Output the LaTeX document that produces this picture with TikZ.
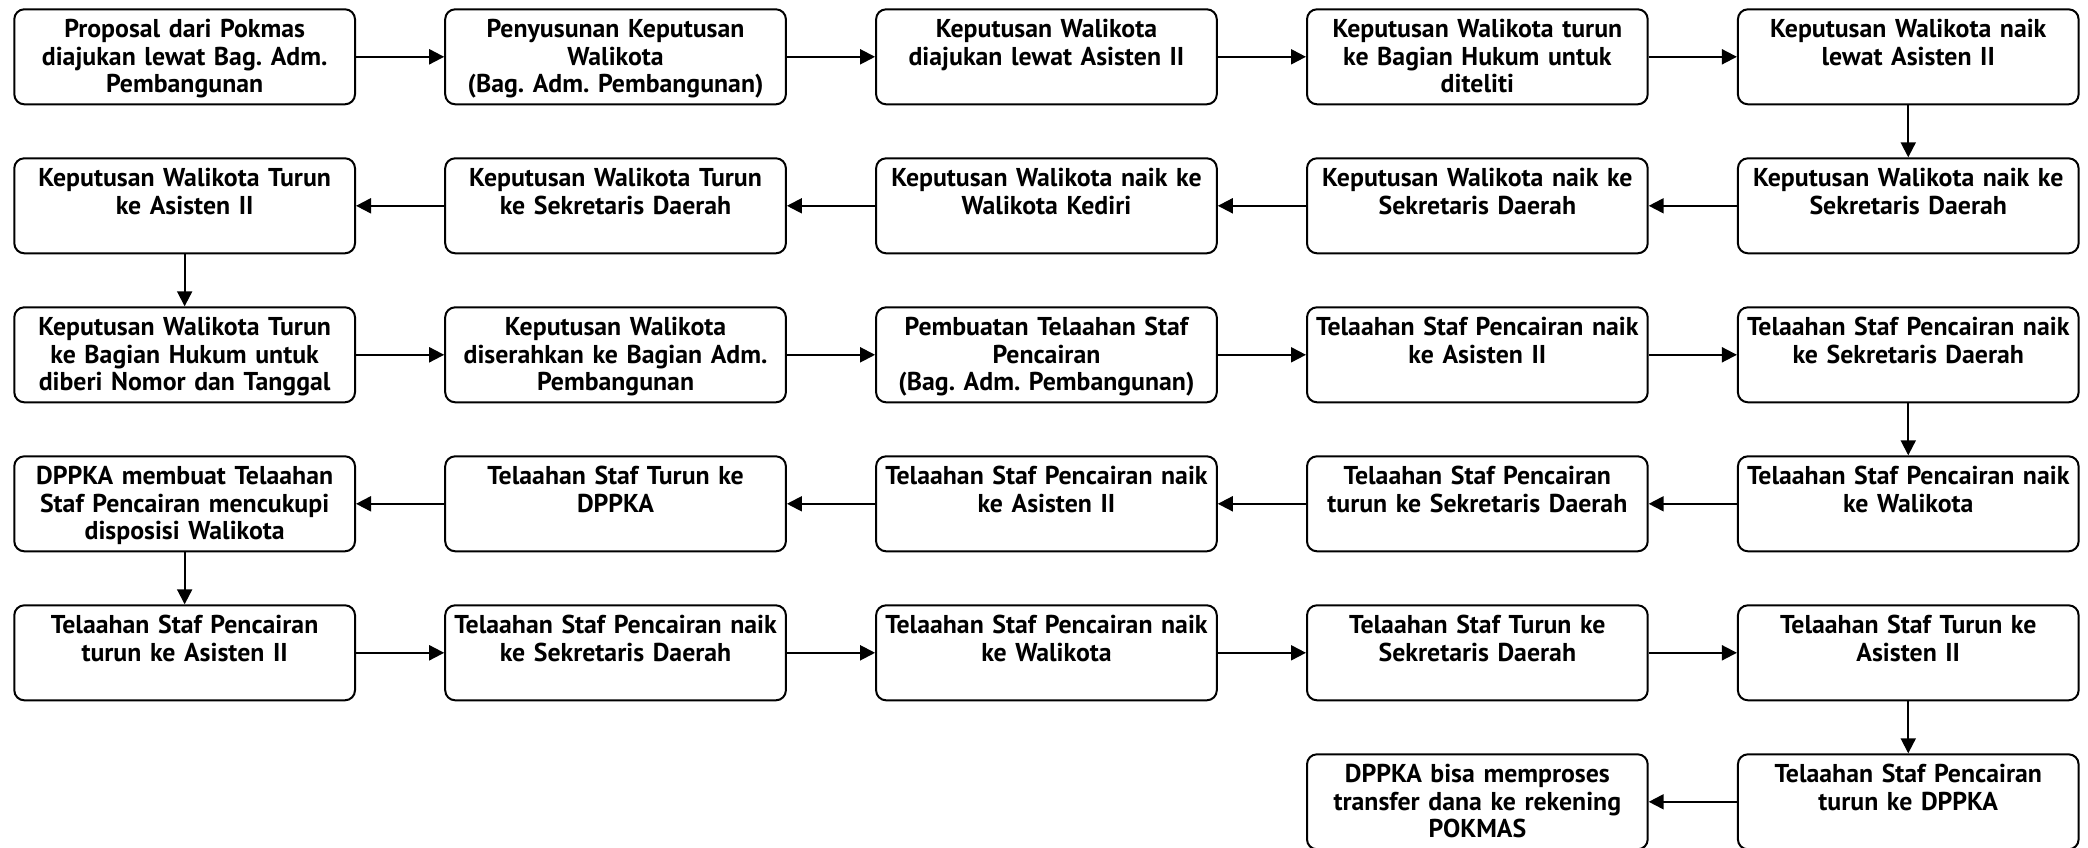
\documentclass[tikz,border=0pt]{standalone}
\usepackage{fontspec}
\setmainfont{PT Sans}
\usepackage{tikz}
\usetikzlibrary{positioning,arrows.meta}
\frenchspacing

\begin{document}
\begin{tikzpicture}[
node distance=26pt and 44.1pt,
box/.style={
rectangle,rounded corners=5pt,draw,line width=1pt,
minimum width=170.35pt,text width=168pt,inner xsep=1pt,inner ysep=4.2pt,
text height=10pt,text depth=29.1pt,align=center,
font=\bfseries\fontsize{12.9}{13.7}\selectfont
},
arrow/.style={-{Triangle[length=7.5pt,width=7.5pt]},line width=1pt}
]
\useasboundingbox (0,0) rectangle (1044pt,-423.5pt);

% row 1
\node[box,anchor=north west] (s1) at (6.65pt,-4.15pt) {Proposal dari Pokmas\\diajukan lewat Bag. Adm.\\Pembangunan};
\node[box,right=of s1] (s2) {Penyusunan Keputusan\\Walikota\\(Bag. Adm. Pembangunan)};
\node[box,right=of s2] (s3) {Keputusan Walikota\\diajukan lewat Asisten II};
\node[box,right=of s3] (s4) {Keputusan Walikota turun\\ke Bagian Hukum untuk\\diteliti};
\node[box,right=of s4] (s5) {Keputusan Walikota naik\\lewat Asisten II};

% row 2
\node[box,below=of s5] (s6) {Keputusan Walikota naik ke\\Sekretaris Daerah};
\node[box,left=of s6] (s7) {Keputusan Walikota naik ke\\Sekretaris Daerah};
\node[box,left=of s7] (s8) {Keputusan Walikota naik ke\\Walikota Kediri};
\node[box,left=of s8] (s9) {Keputusan Walikota Turun\\ke Sekretaris Daerah};
\node[box,left=of s9] (s10) {Keputusan Walikota Turun\\ke Asisten II};

% row 3
\node[box,below=of s10] (s11) {Keputusan Walikota Turun\\ke Bagian Hukum untuk\\diberi Nomor dan Tanggal};
\node[box,right=of s11] (s12) {Keputusan Walikota\\diserahkan ke Bagian Adm.\\Pembangunan};
\node[box,right=of s12] (s13) {Pembuatan Telaahan Staf\\Pencairan\\(Bag. Adm. Pembangunan)};
\node[box,right=of s13] (s14) {Telaahan Staf Pencairan naik\\ke Asisten II};
\node[box,right=of s14] (s15) {Telaahan Staf Pencairan naik\\ke Sekretaris Daerah};

% row 4
\node[box,below=of s15] (s16) {Telaahan Staf Pencairan naik\\ke Walikota};
\node[box,left=of s16] (s17) {Telaahan Staf Pencairan\\turun ke Sekretaris Daerah};
\node[box,left=of s17] (s18) {Telaahan Staf Pencairan naik\\ke Asisten II};
\node[box,left=of s18] (s19) {Telaahan Staf Turun ke\\DPPKA};
\node[box,left=of s19] (s20) {DPPKA membuat Telaahan\\Staf Pencairan mencukupi\\disposisi Walikota};

% row 5
\node[box,below=of s20] (s21) {Telaahan Staf Pencairan\\turun ke Asisten II};
\node[box,right=of s21] (s22) {Telaahan Staf Pencairan naik\\ke Sekretaris Daerah};
\node[box,right=of s22] (s23) {Telaahan Staf Pencairan naik\\ke Walikota};
\node[box,right=of s23] (s24) {Telaahan Staf Turun ke\\Sekretaris Daerah};
\node[box,right=of s24] (s25) {Telaahan Staf Turun ke\\Asisten II};

% row 6
\node[box,below=of s25] (s26) {Telaahan Staf Pencairan\\turun ke DPPKA};
\node[box,left=of s26] (s27) {DPPKA bisa memproses\\transfer dana ke rekening\\POKMAS};

\draw[arrow] (s1)--(s2);
\draw[arrow] (s2)--(s3);
\draw[arrow] (s3)--(s4);
\draw[arrow] (s4)--(s5);
\draw[arrow] (s5)--(s6);
\draw[arrow] (s6)--(s7);
\draw[arrow] (s7)--(s8);
\draw[arrow] (s8)--(s9);
\draw[arrow] (s9)--(s10);
\draw[arrow] (s10)--(s11);
\draw[arrow] (s11)--(s12);
\draw[arrow] (s12)--(s13);
\draw[arrow] (s13)--(s14);
\draw[arrow] (s14)--(s15);
\draw[arrow] (s15)--(s16);
\draw[arrow] (s16)--(s17);
\draw[arrow] (s17)--(s18);
\draw[arrow] (s18)--(s19);
\draw[arrow] (s19)--(s20);
\draw[arrow] (s20)--(s21);
\draw[arrow] (s21)--(s22);
\draw[arrow] (s22)--(s23);
\draw[arrow] (s23)--(s24);
\draw[arrow] (s24)--(s25);
\draw[arrow] (s25)--(s26);
\draw[arrow] (s26)--(s27);

\end{tikzpicture}
\end{document}
